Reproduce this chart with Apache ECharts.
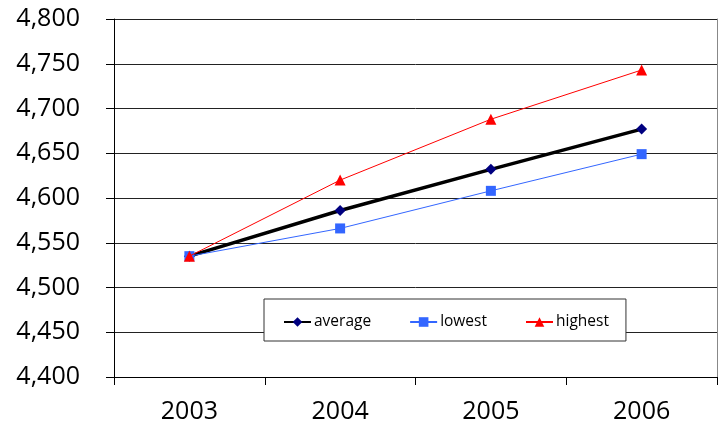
<!DOCTYPE html>
<html>
<head>
<meta charset="utf-8">
<script src="https://cdn.jsdelivr.net/npm/echarts@6/dist/echarts.min.js"></script>
<style>
  html, body { margin: 0; padding: 0; background: #fff; }
  #chart { width: 723px; height: 432px; }
</style>
</head>
<body>
<div id="chart"></div>
<script>
// Yearly figures
const years = ['2003', '2004', '2005', '2006'];
const average = [4535, 4586, 4632, 4677];
const lowest = [4535, 4566, 4608, 4649];
const highest = [4535, 4620, 4688, 4743];

const font = '"Open Sans", sans-serif';

const chart = echarts.init(document.getElementById('chart'));
chart.setOption({
  animation: false,
  backgroundColor: '#fff',
  grid: { left: 114, right: 6, top: 19, bottom: 55, containLabel: false },
  legend: {
    left: 264,
    top: 299,
    orient: 'horizontal',
    backgroundColor: '#fff',
    borderColor: '#333',
    borderWidth: 1,
    padding: [15, 17, 11, 19],
    itemWidth: 27,
    itemHeight: 12,
    itemGap: 38,
    textStyle: { fontFamily: font, fontSize: 15.5, color: '#000', padding: [0, 0, 0, -2] },
    data: ['average', 'lowest', 'highest']
  },
  xAxis: {
    type: 'category',
    data: years,
    boundaryGap: true,
    axisLine: { show: true, lineStyle: { color: '#000', width: 1 } },
    axisTick: { show: true, length: 8, alignWithLabel: false, lineStyle: { color: '#000' } },
    axisLabel: { fontFamily: font, fontSize: 25, color: '#000', margin: 22 },
    splitLine: { show: false }
  },
  yAxis: [{
    type: 'value',
    min: 4400,
    max: 4800,
    interval: 50,
    axisLine: { show: true, lineStyle: { color: '#000', width: 1 } },
    axisTick: { show: true, length: 8, lineStyle: { color: '#000' } },
    axisLabel: {
      fontFamily: font, fontSize: 25, color: '#000', margin: 34,
      formatter: v => v.toLocaleString('en-US')
    },
    splitLine: { show: true, lineStyle: { color: '#222', width: 1 } }
  }, {
    type: 'value',
    position: 'right',
    min: 4400,
    max: 4800,
    interval: 50,
    axisLine: { show: true, lineStyle: { color: '#888', width: 1 } },
    axisTick: { show: false },
    axisLabel: { show: false },
    splitLine: { show: false }
  }],
  series: [
    {
      name: 'average',
      type: 'line',
      data: average,
      symbol: 'diamond',
      symbolSize: 11,
      itemStyle: { color: '#000080' },
      lineStyle: { color: '#000', width: 3.5 },
      z: 3
    },
    {
      name: 'lowest',
      type: 'line',
      data: lowest,
      symbol: 'rect',
      symbolSize: 10,
      itemStyle: { color: '#3366FF' },
      lineStyle: { color: '#3366FF', width: 1 },
      z: 4
    },
    {
      name: 'highest',
      type: 'line',
      data: highest,
      symbol: 'triangle',
      symbolSize: 11,
      itemStyle: { color: '#FF0000' },
      lineStyle: { color: '#FF0000', width: 1 },
      z: 5
    }
  ]
});
</script>
</body>
</html>
